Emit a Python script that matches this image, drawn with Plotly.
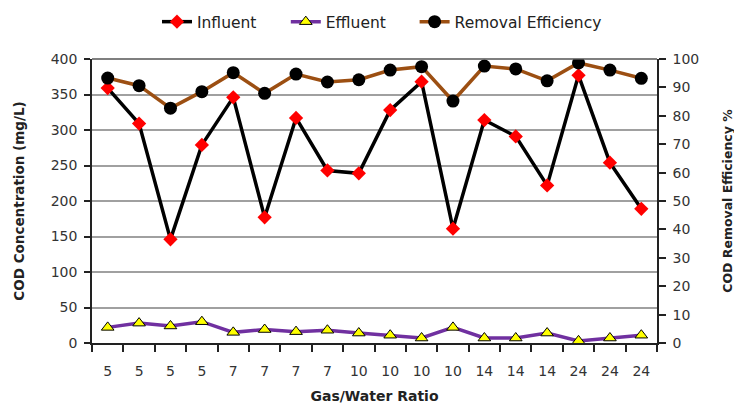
import plotly.graph_objects as go

ratio_labels = ["5", "5", "5", "5", "7", "7", "7", "7", "10", "10", "10", "10", "14", "14", "14", "24", "24", "24"]
influent = [359, 309, 146, 279, 346, 177, 317, 243, 239, 328, 368, 161, 314, 291, 222, 377, 254, 189]
effluent = [22, 28, 24, 30, 15, 19, 16, 18, 14, 11, 7, 22, 7, 7, 14, 3, 7, 11]
removal = [93.3, 90.6, 82.7, 88.5, 95.2, 87.9, 94.7, 91.9, 92.7, 96.1, 97.3, 85.2, 97.5, 96.5, 92.3, 98.6, 96.1, 93.2]

x = list(range(len(ratio_labels)))
font_family = "DejaVu Sans"
axis_col = "#222222"
label_col = "#333333"

fig = go.Figure()
fig.add_trace(go.Scatter(
    x=x, y=influent, name="Influent", mode="lines+markers", legend="legend",
    line=dict(color="black", width=3.5),
    marker=dict(symbol="diamond", color="#ff0000", size=11),
))
fig.add_trace(go.Scatter(
    x=x, y=effluent, name="Effluent", mode="lines+markers", legend="legend2",
    line=dict(color="#7030a0", width=3.5),
    marker=dict(symbol="triangle-up", color="#ffff00", size=11,
                line=dict(color="black", width=1)),
))
fig.add_trace(go.Scatter(
    x=x, y=removal, name="Removal Efficiency", mode="lines+markers", legend="legend3",
    yaxis="y2",
    line=dict(color="#9c4f12", width=3.5),
    marker=dict(symbol="circle", color="black", size=13),
))

leg_common = dict(orientation="h", xanchor="left", y=1.13, yanchor="middle",
                  font=dict(size=15.5, color="#222222"), bgcolor="rgba(0,0,0,0)")

fig.update_layout(
    width=742, height=403,
    margin=dict(l=84, r=93, t=51, b=68, autoexpand=False),
    paper_bgcolor="white", plot_bgcolor="white",
    font=dict(family=font_family, size=12, color=label_col),
    showlegend=True,
    legend=dict(x=0.115, **leg_common),
    legend2=dict(x=0.343, **leg_common),
    legend3=dict(x=0.571, **leg_common),
    xaxis=dict(
        range=[-0.5, len(x) - 0.5],
        tickvals=x, ticktext=ratio_labels,
        ticks="outside", ticklen=14, tickcolor="rgba(0,0,0,0)",
        showline=True, linecolor=axis_col, linewidth=1.5,
        showgrid=False, zeroline=False, automargin=False,
        minor=dict(ticks="outside", tick0=-0.5, dtick=1, ticklen=7,
                   tickcolor=axis_col, tickwidth=1.5, showgrid=False),
        tickfont=dict(size=14, color=label_col),
        title=dict(text="<b>Gas/Water Ratio</b>", font=dict(size=14, color="#222222"), standoff=14),
    ),
    yaxis=dict(
        range=[0, 400], dtick=50, ticks="outside", ticklen=6, tickcolor=axis_col, tickwidth=1.5,
        showline=True, linecolor=axis_col, linewidth=1.5, automargin=False,
        showgrid=True, gridcolor="#a0a0a0", gridwidth=1.5, zeroline=False,
        tickfont=dict(size=14, color=label_col), ticklabelstandoff=4,
        title=dict(text="<b>COD Concentration (mg/L)</b>", font=dict(size=13.5, color="#222222"), standoff=23),
    ),
    yaxis2=dict(
        range=[0, 100], dtick=10, overlaying="y", side="right",
        ticks="outside", ticklen=7, tickcolor=axis_col, tickwidth=1.5, automargin=False,
        showline=True, linecolor=axis_col, linewidth=1.5,
        showgrid=False, zeroline=False,
        tickfont=dict(size=14, color=label_col), ticklabelstandoff=4,
        title=dict(text="<b>COD Removal Efficiency %</b>", font=dict(size=12.5, color="#222222"), standoff=25),
    ),
)
fig.add_shape(type="line", xref="paper", yref="paper", x0=0, x1=1, y0=1, y1=1,
              line=dict(color="#555555", width=1.5))

fig.write_html("out.html")
